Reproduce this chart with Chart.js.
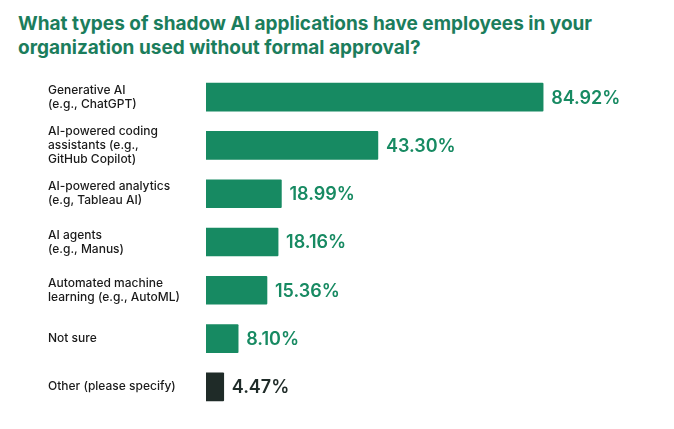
<!DOCTYPE html>
<html>
<head>
<meta charset="utf-8">
<script src="https://cdn.jsdelivr.net/npm/chart.js@4"></script>
<style>
  body { margin: 0; background: #fff; }
  #wrap { position: relative; width: 674px; height: 429px; }
  #title { position: absolute; left: 18px; top: 12px; font: bold 19px "Inter", "Liberation Sans", sans-serif; color: #1b7d5c; line-height: 24px; }
  canvas { position: absolute; left: 0; top: 0; }
</style>
</head>
<body>
<div id="wrap">
  <div id="title">What types of shadow AI applications have employees in your<br>organization used without formal approval?</div>
  <canvas id="chart" width="674" height="429"></canvas>
</div>
<script>
// Categorías y valores (%)
const categories = [
  ["Generative AI", "(e.g., ChatGPT)"],
  ["AI-powered coding", "assistants (e.g.,", "GitHub Copilot)"],
  ["AI-powered analytics", "(e.g, Tableau AI)"],
  ["AI agents", "(e.g., Manus)"],
  ["Automated machine", "learning (e.g., AutoML)"],
  ["Not sure"],
  ["Other (please specify)"]
];
const values = [84.92, 43.30, 18.99, 18.16, 15.36, 8.10, 4.47];
const barColors = ["#178a62", "#178a62", "#178a62", "#178a62", "#178a62", "#178a62", "#1f2b28"];
const labelColors = ["#178a62", "#178a62", "#178a62", "#178a62", "#178a62", "#178a62", "#1f2b28"];

// Plugin para las etiquetas de valor
const valueLabels = {
  id: "valueLabels",
  afterDatasetsDraw(chart) {
    const ctx = chart.ctx;
    const meta = chart.getDatasetMeta(0);
    ctx.save();
    ctx.font = "600 18px Inter, 'Liberation Sans', sans-serif";
    ctx.textBaseline = "middle";
    meta.data.forEach((bar, i) => {
      ctx.fillStyle = labelColors[i];
      ctx.fillText(values[i].toFixed(2) + "%", bar.x + 8, bar.y + 1);
    });
    ctx.restore();
  }
};

new Chart(document.getElementById("chart"), {
  type: "bar",
  data: {
    labels: categories,
    datasets: [{ data: values, backgroundColor: barColors, barThickness: 28, borderRadius: 1 }]
  },
  options: {
    indexAxis: "y",
    responsive: false,
    animation: false,
    layout: { padding: { left: 48, top: 73, right: 71, bottom: 18 } },
    plugins: { legend: { display: false }, tooltip: { enabled: false } },
    scales: {
      x: { display: false, min: 0, max: 100 },
      y: {
        grid: { display: false },
        border: { display: false },
        afterFit(scale) { scale.width = 158; },
        ticks: {
          crossAlign: "far",
          padding: 0,
          color: "#1a1a1a",
          font: { size: 12, weight: "500", family: "Inter, 'Liberation Sans', sans-serif", lineHeight: 1.15 }
        }
      }
    }
  },
  plugins: [valueLabels]
});
</script>
</body>
</html>
